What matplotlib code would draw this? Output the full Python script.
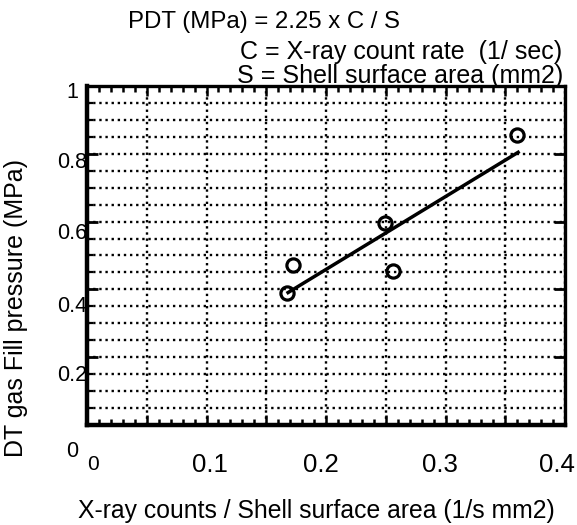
import matplotlib
matplotlib.use('Agg')
import matplotlib.pyplot as plt
from matplotlib.ticker import MultipleLocator

# measured points (X-ray counts / surface area vs fill pressure)
x_vals = [0.167, 0.172, 0.249, 0.256, 0.360]
y_vals = [0.389, 0.472, 0.596, 0.454, 0.855]

# fitted line PDT = 2.25 x C/S
fit_x = [0.167, 0.362]
fit_y = [0.388, 0.807]

xtick_text = ['0', '0.1', '0.2', '0.3', '0.4']
ytick_text = ['1', '0.8', '0.6', '0.4', '0.2', '0']

plt.rcParams['font.family'] = ['Liberation Sans', 'DejaVu Sans']

fig = plt.figure(figsize=(5.77, 5.25), dpi=100)
ax = fig.add_axes([0.1508, 0.1905, 0.8284, 0.6457])

ax.plot(fit_x, fit_y, color='black', lw=2.5, solid_capstyle='butt', zorder=3)
ax.plot(x_vals, y_vals, 'o', ms=9.5, mfc='none', mec='black', mew=2.3, zorder=4)

ax.set_xlim(0, 0.4)
ax.set_ylim(0, 1)
ax.xaxis.set_major_locator(MultipleLocator(0.05))
ax.xaxis.set_minor_locator(MultipleLocator(0.01))
ax.yaxis.set_major_locator(MultipleLocator(0.2))
ax.yaxis.set_minor_locator(MultipleLocator(0.05))

dots = (0, (1, 1.6))
ax.xaxis.grid(True, which='major', color='black', lw=1.7, ls=dots)
ax.yaxis.grid(True, which='both', color='black', lw=1.7, ls=dots)
ax.set_axisbelow(True)

ax.tick_params(axis='x', which='major', direction='in', length=7, width=1.8,
               top=True, bottom=True, labelbottom=False)
ax.tick_params(axis='x', which='minor', direction='in', length=4, width=1.8,
               top=True, bottom=True)
ax.tick_params(axis='y', which='major', direction='in', length=8, width=2,
               left=True, right=True, labelleft=False)
ax.tick_params(axis='y', which='minor', direction='in', length=4, width=1.6,
               left=True, right=False)

for side in ['left', 'bottom']:
    ax.spines[side].set_linewidth(3.2)
for side in ['top', 'right']:
    ax.spines[side].set_linewidth(2.4)

# tick labels, placed like the pasted-up original
xlab_pos = [0.005, 0.103, 0.196, 0.295, 0.393]
for pos, t in zip(xlab_pos, xtick_text):
    size = 15 if t == '0' else 18.5
    ax.text(pos, -0.118, t, transform=ax.get_xaxis_transform(),
            ha='center', va='center', fontsize=size)

ylab_pos = [0.982, 0.773, 0.566, 0.351, 0.147, -0.077]
for pos, t in zip(ylab_pos, ytick_text):
    ax.text(-0.031, pos, t, transform=ax.transAxes,
            ha='center', va='center', fontsize=15.5)

fig.text(128 / 577, 1 - 22 / 525, 'PDT (MPa) = 2.25 x C / S',
         ha='left', va='center', fontsize=17.3)
fig.text(562 / 577, 1 - 52 / 525, 'C = X-ray count rate  (1/ sec)',
         ha='right', va='center', fontsize=18)
fig.text(563 / 577, 1 - 76 / 525, 'S = Shell surface area (mm2)',
         ha='right', va='center', fontsize=18)

fig.text(316.5 / 577, 1 - 511 / 525, 'X-ray counts / Shell surface area (1/s mm2)',
         ha='center', va='center', fontsize=17.8)
fig.text(16 / 577, 1 - 308 / 525, 'DT gas Fill pressure (MPa)',
         rotation=90, ha='center', va='center', fontsize=18)

fig.savefig('out.png', dpi=100)
